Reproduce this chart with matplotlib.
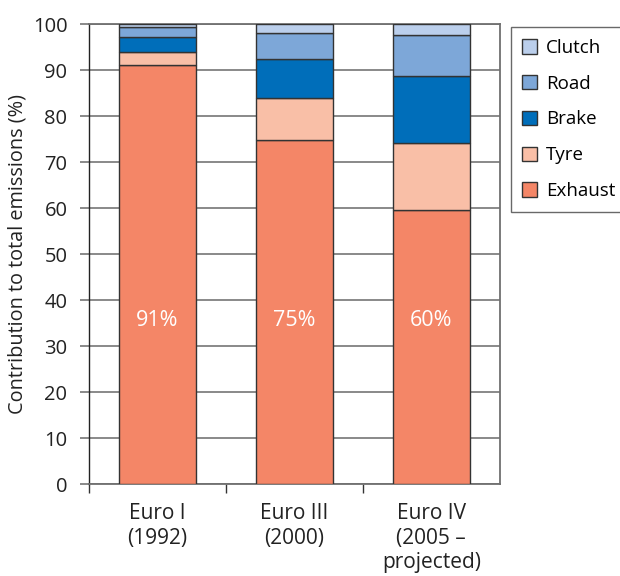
import matplotlib
matplotlib.use("Agg")
import matplotlib.pyplot as plt
import numpy as np

plt.rcParams["font.family"] = ["Open Sans", "DejaVu Sans"]

categories = ["Euro I\n(1992)", "Euro III\n(2000)", "Euro IV\n(2005 –\nprojected)"]
sources = ["Exhaust", "Tyre", "Brake", "Road", "Clutch"]
exhaust = [91.0, 74.7, 59.5]
tyre = [3.0, 9.2, 14.7]
brake = [3.2, 8.6, 14.4]
road = [2.2, 5.6, 9.0]
clutch = [0.6, 1.9, 2.4]
exhaust_labels = ["91%", "75%", "60%"]

colors = ["#F48667", "#F9BFA7", "#006EBA", "#7DA7D8", "#BBCFEC"]

fig = plt.figure(figsize=(6.2, 5.76), dpi=100)
ax = fig.add_axes([0.1435, 0.1597, 0.6625, 0.7986])

x = np.arange(len(categories))
bottom = np.zeros(len(categories))
handles = []
for name, vals, col in zip(sources, [exhaust, tyre, brake, road, clutch], colors):
    b = ax.bar(x, vals, width=0.56, bottom=bottom, color=col,
               edgecolor="#333333", linewidth=1.0, label=name, zorder=3)
    handles.append(b)
    bottom += np.array(vals)

for xi, lab in zip(x, exhaust_labels):
    ax.text(xi, 35.6, lab, color="white", ha="center", va="center",
            fontsize=15.5, zorder=4)

ax.set_xlim(-0.5, 2.5)
ax.set_ylim(0, 100)
ax.set_yticks(range(0, 101, 10))
ax.yaxis.grid(True, color="#808080", linewidth=1.3, zorder=0)
ax.tick_params(axis="y", length=6.5, width=1.3, color="#808080",
               labelsize=14.5, pad=9, labelcolor="#222222")

ax.set_xticks(x)
ax.set_xticklabels(categories, fontsize=15, linespacing=1.2, color="#222222")
ax.tick_params(axis="x", which="major", length=0, pad=14)
ax.set_xticks([-0.5, 0.5, 1.5], minor=True)
ax.tick_params(axis="x", which="minor", length=6.5, width=1.0, color="#333333")

for side in ["top", "right", "bottom"]:
    ax.spines[side].set_color("#707070")
    ax.spines[side].set_linewidth(1.3)
ax.spines["left"].set_color("#222222")
ax.spines["left"].set_linewidth(1.0)

ax.set_ylabel("Contribution to total emissions (%)", fontsize=14.3,
              color="#222222")
ax.yaxis.set_label_coords(-0.15, 0.5)

leg = ax.legend(handles[::-1], sources[::-1], loc="upper left",
                bbox_to_anchor=(1.027, 0.993), frameon=True, fancybox=False,
                fontsize=13.5, handlelength=0.8, handleheight=0.8,
                labelspacing=0.95, borderpad=0.62, handletextpad=0.45,
                borderaxespad=0)
leg.get_frame().set_edgecolor("#444444")
leg.get_frame().set_linewidth(1.0)

fig.savefig("out.png", dpi=100)
